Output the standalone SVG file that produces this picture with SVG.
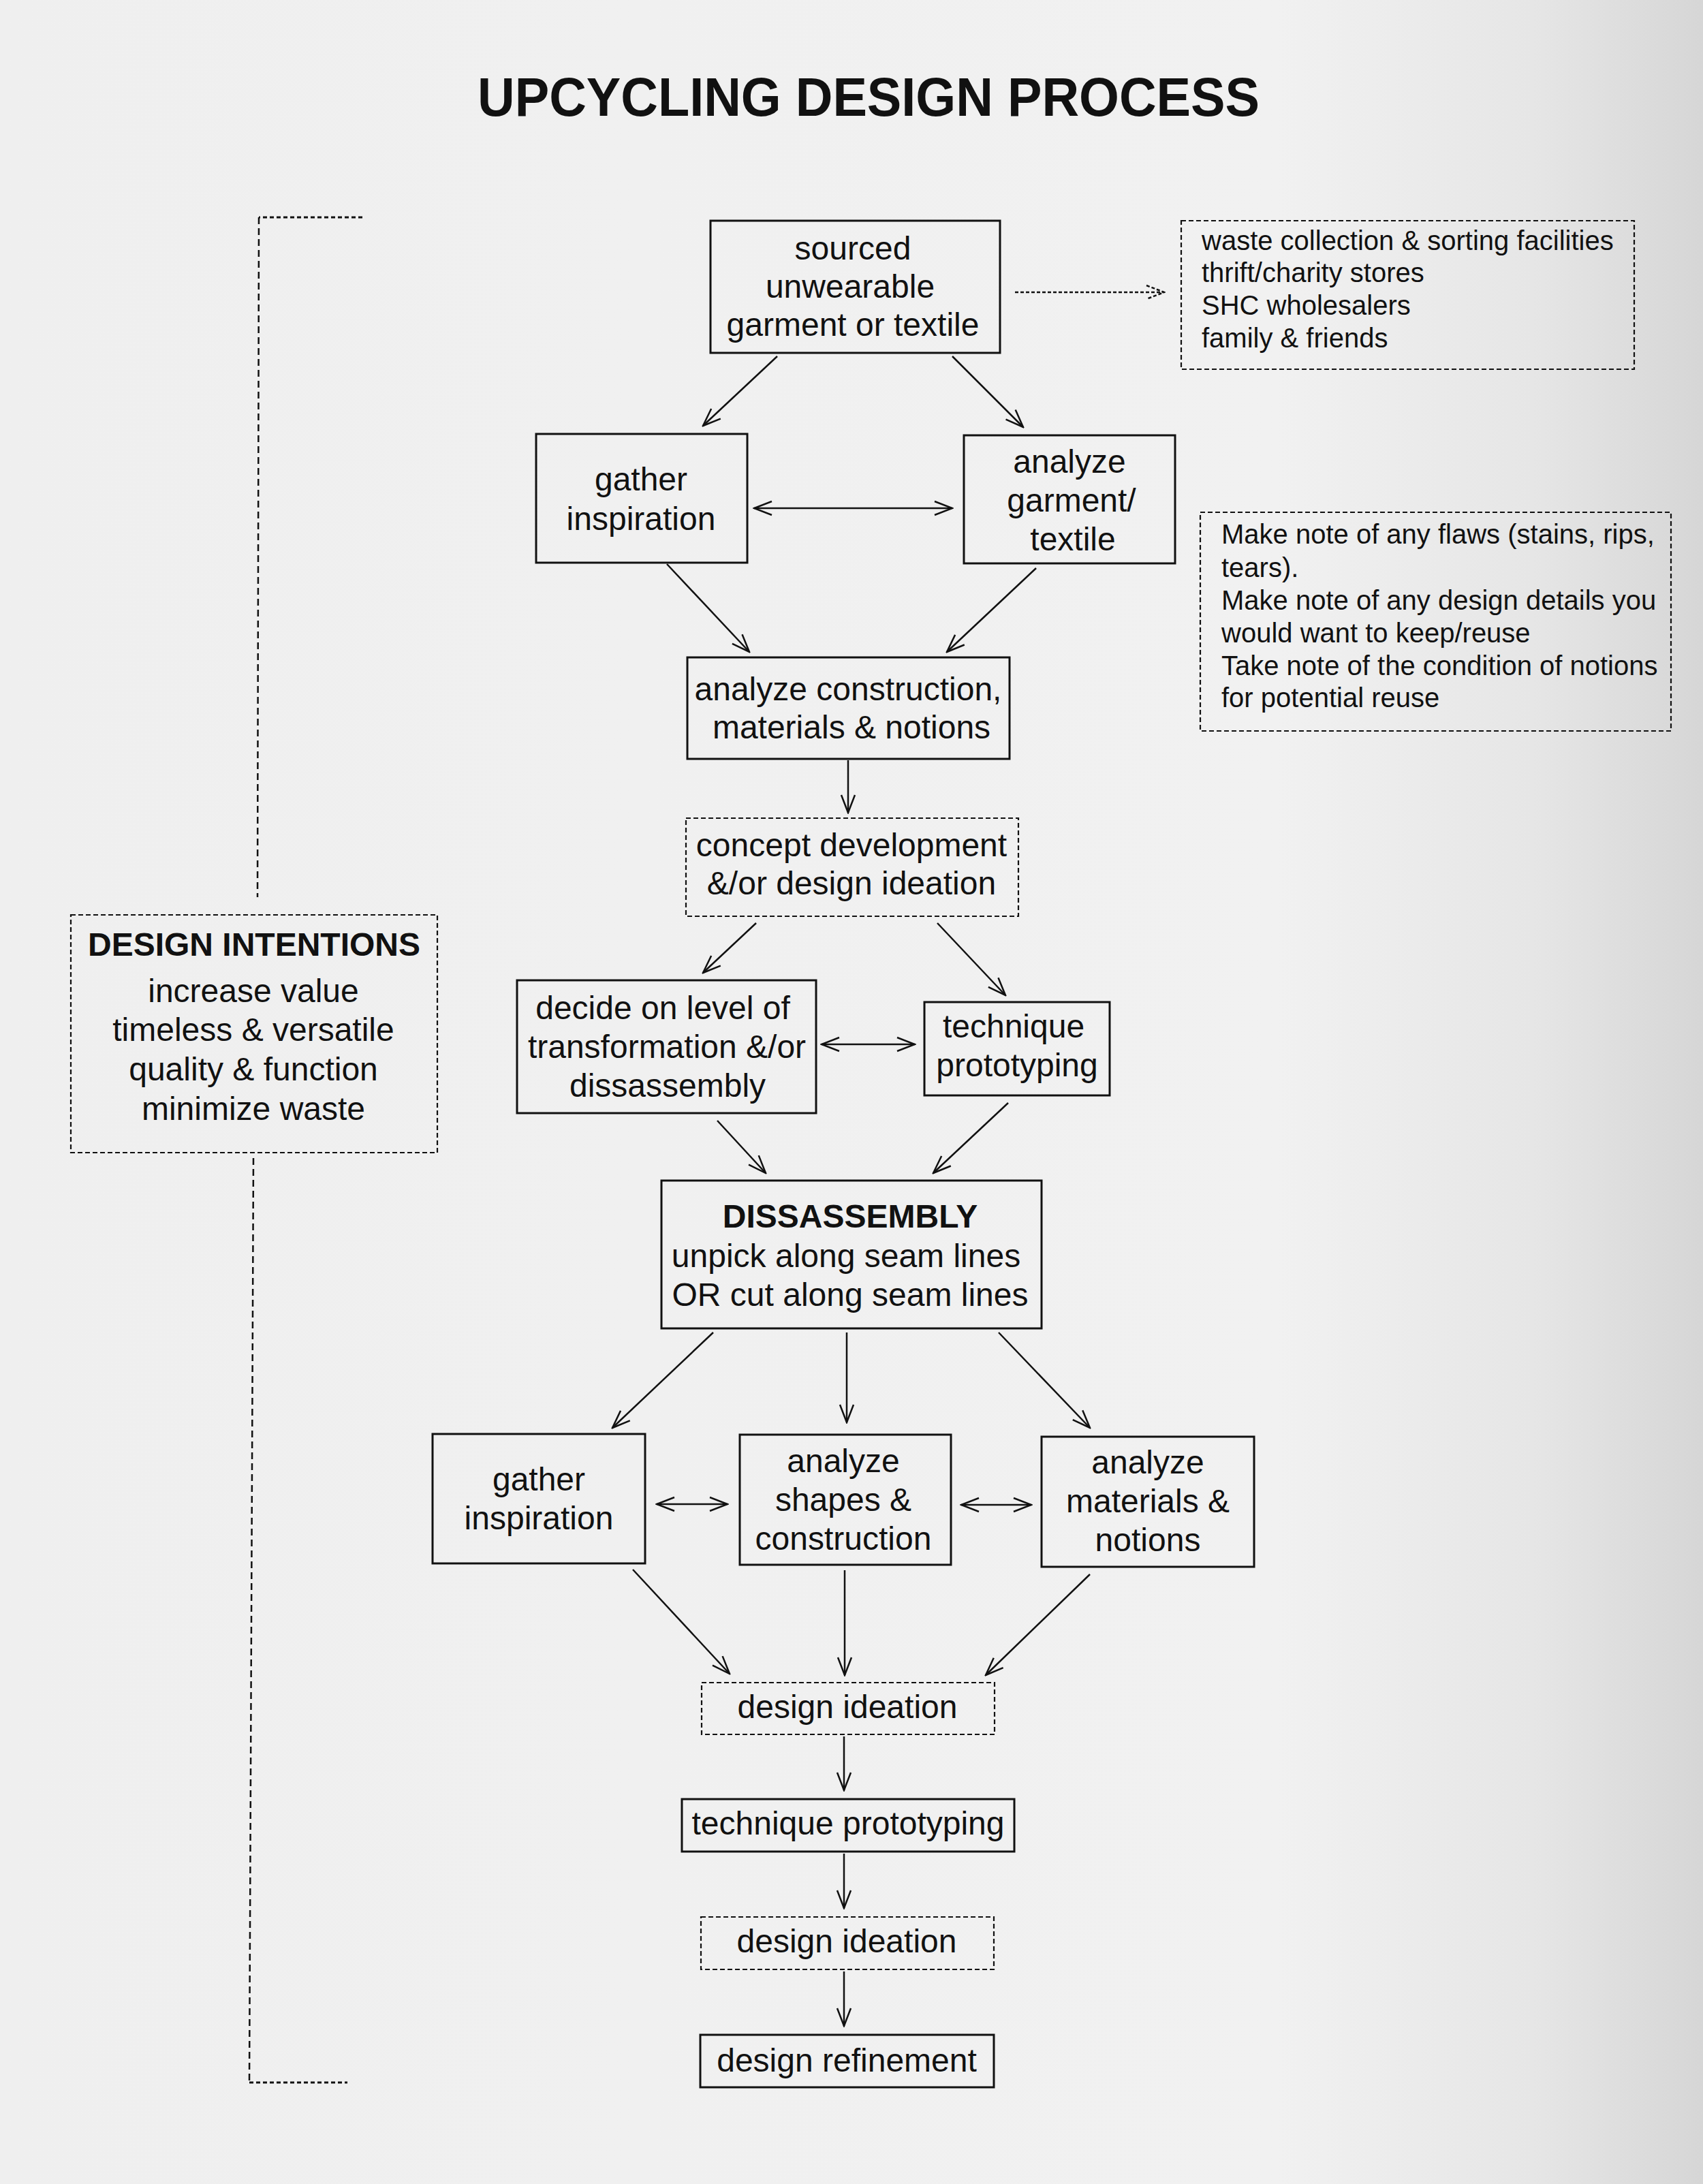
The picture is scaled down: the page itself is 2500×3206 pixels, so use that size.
<svg xmlns="http://www.w3.org/2000/svg" width="2500" height="3206" viewBox="0 0 2500 3206">
<defs>
<linearGradient id="bg" x1="0" y1="0" x2="1" y2="0">
<stop offset="0" stop-color="#efefef"/>
<stop offset="0.75" stop-color="#f1f1f1"/>
<stop offset="0.9" stop-color="#e6e6e6"/>
<stop offset="1" stop-color="#d6d6d6"/>
</linearGradient>
<marker id="ah" viewBox="0 0 30 24" refX="28" refY="12" markerWidth="30" markerHeight="24" markerUnits="userSpaceOnUse" orient="auto-start-reverse">
<path d="M2,2 L28,12 L2,22" fill="none" stroke="#111" stroke-width="2.5"/>
</marker>
<marker id="ahd" viewBox="0 0 30 24" refX="28" refY="12" markerWidth="30" markerHeight="24" markerUnits="userSpaceOnUse" orient="auto">
<path d="M2,2 L28,12 L2,22" fill="none" stroke="#111" stroke-width="2.5" stroke-dasharray="5 3"/>
</marker>
</defs>
<style>
text{font-family:"Liberation Sans",Arial,Helvetica,sans-serif;fill:#111}
.t{font-size:48px;text-anchor:middle}
.b{font-weight:bold}
.s{font-size:40px}
.box{fill:none;stroke:#111;stroke-width:3}
.dbox{fill:none;stroke:#111;stroke-width:2.2;stroke-dasharray:7 4}
.c{fill:none;stroke:#111;stroke-width:2.5;marker-end:url(#ah)}
.cc{fill:none;stroke:#111;stroke-width:2.5;marker-start:url(#ah);marker-end:url(#ah)}
.dl{fill:none;stroke:#111;stroke-width:2.5;stroke-dasharray:10 6}
.dt{fill:none;stroke:#111;stroke-width:3;stroke-dasharray:6 4}
</style>
<rect x="0" y="0" width="2500" height="3206" fill="url(#bg)"/>

<text x="1275" y="170" class="b" font-size="80" text-anchor="middle" textLength="1148" lengthAdjust="spacingAndGlyphs">UPCYCLING DESIGN PROCESS</text>

<g id="bracket">
<path class="dt" d="M532,319 L380,319"/>
<path class="dl" d="M380,319 L378,1317"/>
<path class="dl" d="M372,1700 L366,3057"/>
<path class="dt" d="M366,3057 L510,3057"/>
</g>

<g id="design-intentions">
<rect class="dbox" x="104" y="1343" width="538" height="349"/>
<text x="373" y="1403" class="t b">DESIGN INTENTIONS</text>
<text x="372" y="1471" class="t">increase value</text>
<text x="372" y="1528" class="t">timeless &amp; versatile</text>
<text x="372" y="1586" class="t">quality &amp; function</text>
<text x="372" y="1644" class="t">minimize waste</text>
</g>

<g id="sourced">
<rect class="box" x="1043" y="324" width="425" height="194"/>
<text x="1252" y="381" class="t">sourced</text>
<text x="1248" y="437" class="t">unwearable</text>
<text x="1252" y="493" class="t">garment or textile</text>
</g>

<g id="sources-note">
<rect class="dbox" x="1734" y="324" width="665" height="218"/>
<text x="1764" y="367" class="s">waste collection &amp; sorting facilities</text>
<text x="1764" y="414" class="s">thrift/charity stores</text>
<text x="1764" y="462" class="s">SHC wholesalers</text>
<text x="1764" y="510" class="s">family &amp; friends</text>
</g>

<g id="gather1">
<rect class="box" x="787" y="637" width="310" height="189"/>
<text x="941" y="720" class="t">gather</text>
<text x="941" y="778" class="t">inspiration</text>
</g>

<g id="analyze-garment">
<rect class="box" x="1415" y="639" width="310" height="188"/>
<text x="1570" y="694" class="t">analyze</text>
<text x="1573" y="751" class="t">garment/</text>
<text x="1575" y="808" class="t">textile</text>
</g>

<g id="flaws-note">
<rect class="dbox" x="1762" y="752" width="691" height="321"/>
<text x="1793" y="798" class="s">Make note of any flaws (stains, rips,</text>
<text x="1793" y="847" class="s">tears).</text>
<text x="1793" y="895" class="s">Make note of any design details you</text>
<text x="1793" y="943" class="s">would want to keep/reuse</text>
<text x="1793" y="991" class="s">Take note of the condition of notions</text>
<text x="1793" y="1038" class="s">for potential reuse</text>
</g>

<g id="analyze-construction">
<rect class="box" x="1009" y="965" width="473" height="149"/>
<text x="1245" y="1028" class="t">analyze construction,</text>
<text x="1250" y="1084" class="t">materials &amp; notions</text>
</g>

<g id="concept">
<rect class="dbox" x="1007" y="1201" width="488" height="144"/>
<text x="1250" y="1257" class="t">concept development</text>
<text x="1250" y="1313" class="t">&amp;/or design ideation</text>
</g>

<g id="decide">
<rect class="box" x="759" y="1439" width="439" height="195"/>
<text x="973" y="1496" class="t">decide on level of</text>
<text x="979" y="1553" class="t">transformation &amp;/or</text>
<text x="980" y="1610" class="t">dissassembly</text>
</g>

<g id="technique1">
<rect class="box" x="1357" y="1471" width="272" height="137"/>
<text x="1488" y="1523" class="t">technique</text>
<text x="1493" y="1580" class="t">prototyping</text>
</g>

<g id="dissassembly">
<rect class="box" x="971" y="1733" width="558" height="217"/>
<text x="1248" y="1802" class="t b">DISSASSEMBLY</text>
<text x="1242" y="1860" class="t">unpick along seam lines</text>
<text x="1248" y="1917" class="t">OR cut along seam lines</text>
</g>

<g id="gather2">
<rect class="box" x="635" y="2105" width="312" height="190"/>
<text x="791" y="2188" class="t">gather</text>
<text x="791" y="2245" class="t">inspiration</text>
</g>

<g id="analyze-shapes">
<rect class="box" x="1086" y="2106" width="310" height="191"/>
<text x="1238" y="2161" class="t">analyze</text>
<text x="1238" y="2218" class="t">shapes &amp;</text>
<text x="1238" y="2275" class="t">construction</text>
</g>

<g id="analyze-materials">
<rect class="box" x="1529" y="2109" width="312" height="191"/>
<text x="1685" y="2163" class="t">analyze</text>
<text x="1685" y="2220" class="t">materials &amp;</text>
<text x="1685" y="2277" class="t">notions</text>
</g>

<g id="ideation1">
<rect class="dbox" x="1030" y="2470" width="430" height="76"/>
<text x="1244" y="2522" class="t">design ideation</text>
</g>

<g id="technique2">
<rect class="box" x="1001" y="2641" width="488" height="77"/>
<text x="1245" y="2693" class="t">technique prototyping</text>
</g>

<g id="ideation2">
<rect class="dbox" x="1029" y="2814" width="430" height="77"/>
<text x="1243" y="2866" class="t">design ideation</text>
</g>

<g id="refinement">
<rect class="box" x="1028" y="2987" width="431" height="77"/>
<text x="1243" y="3041" class="t">design refinement</text>
</g>

<g id="connectors">
<path d="M1490,429 L1709,429" fill="none" stroke="#111" stroke-width="2.5" stroke-dasharray="5 3" marker-end="url(#ahd)"/>
<path class="c" d="M1141,523 L1032,625"/>
<path class="c" d="M1398,523 L1502,627"/>
<path class="cc" d="M1107,746 L1398,746"/>
<path class="c" d="M979,828 L1100,957"/>
<path class="c" d="M1521,834 L1390,957"/>
<path class="c" d="M1245,1116 L1245,1193"/>
<path class="c" d="M1110,1355 L1032,1428"/>
<path class="c" d="M1376,1355 L1476,1461"/>
<path class="cc" d="M1206,1533 L1343,1533"/>
<path class="c" d="M1053,1645 L1124,1722"/>
<path class="c" d="M1480,1619 L1370,1722"/>
<path class="c" d="M1047,1956 L899,2096"/>
<path class="c" d="M1243,1956 L1243,2088"/>
<path class="c" d="M1466,1956 L1600,2096"/>
<path class="cc" d="M964,2208 L1068,2208"/>
<path class="cc" d="M1411,2209 L1514,2209"/>
<path class="c" d="M929,2304 L1071,2457"/>
<path class="c" d="M1240,2305 L1240,2459"/>
<path class="c" d="M1600,2311 L1447,2459"/>
<path class="c" d="M1239,2549 L1239,2628"/>
<path class="c" d="M1239,2721 L1239,2801"/>
<path class="c" d="M1239,2894 L1239,2974"/>
</g>
</svg>
